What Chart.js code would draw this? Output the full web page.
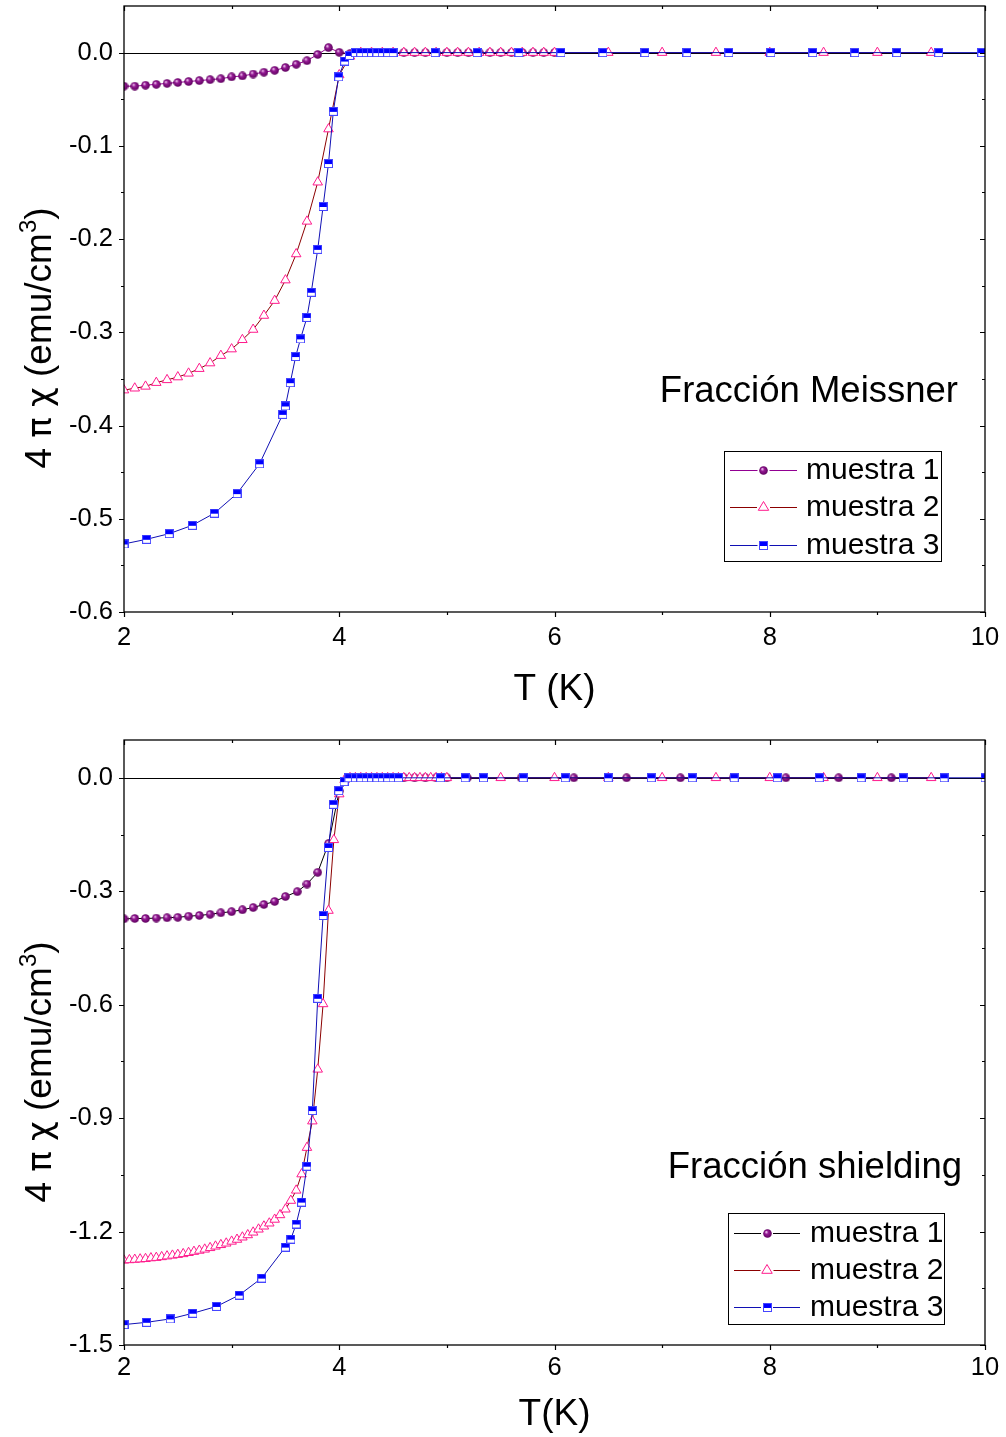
<!DOCTYPE html>
<html>
<head>
<meta charset="utf-8">
<script src="https://cdn.jsdelivr.net/npm/chart.js@4/dist/chart.umd.min.js"></script>
<style>
html, body { margin: 0; padding: 0; background: #fff; }
#wrap { position: relative; width: 1006px; height: 1437px; }
canvas { position: absolute; left: 0; }
</style>
</head>
<body>
<div id="wrap">
  <canvas id="meissner" width="1006" height="720" style="top:0"></canvas>
  <canvas id="shielding" width="1006" height="717" style="top:720px"></canvas>
</div>
<script>
// --- DONNÉES : Fracción Meissner ---
const meissT1 = [2.0, 2.1, 2.2, 2.3, 2.4, 2.5, 2.6, 2.7, 2.8, 2.9, 3.0, 3.1, 3.2, 3.3, 3.4, 3.5, 3.6, 3.7, 3.8, 3.9, 4.0, 4.1,
  4.2, 4.3, 4.4, 4.5, 4.6, 4.7, 4.8, 4.9, 5.0, 5.1, 5.2, 5.3, 5.4, 5.5, 5.6, 5.7, 5.8, 5.9, 6.0];
const meissV1 = [-0.036, -0.036, -0.035, -0.034, -0.033, -0.032, -0.031, -0.030, -0.029, -0.028, -0.026, -0.025, -0.023, -0.021, -0.019, -0.016, -0.0125, -0.0086, -0.002, 0.0054, 0.0003, -0.001,
  0, 0, 0, 0, 0, 0, 0, 0, 0, 0, 0, 0, 0, 0, 0, 0, 0, 0, 0];

const meissT2 = [2.0, 2.1, 2.2, 2.3, 2.4, 2.5, 2.6, 2.7, 2.8, 2.9, 3.0, 3.1, 3.2, 3.3, 3.4, 3.5, 3.6, 3.7, 3.8, 3.9, 4.0, 4.1,
  4.2, 4.3, 4.4, 4.5, 4.6, 4.7, 4.8, 4.9, 5.0, 5.1, 5.2, 5.3, 5.4, 5.5, 5.6, 5.7, 5.8, 5.9, 6.0,
  6.5, 7.0, 7.5, 8.0, 8.5, 9.0, 9.5];
const meissV2 = [-0.362, -0.360, -0.358, -0.354, -0.351, -0.348, -0.344, -0.339, -0.333, -0.325, -0.318, -0.308, -0.297, -0.282, -0.266, -0.244, -0.216, -0.181, -0.139, -0.082, -0.024, -0.004,
  0, 0, 0, 0, 0, 0, 0, 0, 0, 0, 0, 0, 0, 0, 0, 0, 0, 0, 0,
  0, 0, 0, 0, 0, 0, 0];

const meissT3 = [2.0, 2.21, 2.42, 2.635, 2.84, 3.05, 3.26, 3.475, 3.50, 3.545, 3.595, 3.64, 3.70, 3.74, 3.80, 3.85, 3.90, 3.945, 3.995, 4.05, 4.095,
  4.15, 4.2, 4.25, 4.3, 4.35, 4.4, 4.45, 4.5,
  4.89, 5.28, 5.67, 6.06, 6.45, 6.84, 7.23, 7.62, 8.01, 8.40, 8.79, 9.18, 9.57, 9.97];
const meissV3 = [-0.527, -0.522, -0.516, -0.507, -0.494, -0.473, -0.441, -0.388, -0.379, -0.354, -0.326, -0.307, -0.284, -0.257, -0.211, -0.165, -0.119, -0.063, -0.026, -0.009, -0.003,
  0, 0, 0, 0, 0, 0, 0, 0,
  0, 0, 0, 0, 0, 0, 0, 0, 0, 0, 0, 0, 0, 0];

// --- DONNÉES : Fracción shielding ---
const shieldT1 = [2.0, 2.1, 2.2, 2.3, 2.4, 2.5, 2.6, 2.7, 2.8, 2.9, 3.0, 3.1, 3.2, 3.3, 3.4, 3.5, 3.61, 3.7, 3.8, 3.9, 4.0,
  4.1, 4.2, 4.3, 4.4, 4.5, 4.6, 4.7, 4.8, 4.9, 5.0,
  5.19, 5.69, 6.18, 6.67, 7.17, 7.66, 8.15, 8.64, 9.13, 9.62];
const shieldV1 = [-0.373, -0.372, -0.372, -0.371, -0.370, -0.369, -0.366, -0.364, -0.361, -0.357, -0.354, -0.349, -0.343, -0.335, -0.327, -0.314, -0.301, -0.281, -0.250, -0.174, -0.035,
  0, 0, 0, 0, 0, 0, 0, 0, 0, 0,
  0, 0, 0, 0, 0, 0, 0, 0, 0, 0];

const shieldT2 = [2.00, 2.05, 2.10, 2.15, 2.20, 2.25, 2.30, 2.35, 2.40, 2.45, 2.50, 2.55, 2.60, 2.65, 2.70, 2.75, 2.80, 2.85, 2.90, 2.95,
  3.00, 3.05, 3.10, 3.15, 3.20, 3.25, 3.30, 3.35, 3.40, 3.45, 3.50, 3.55, 3.60, 3.65, 3.70, 3.75, 3.80, 3.85, 3.90, 3.95,
  4.00, 4.05, 4.10, 4.15, 4.20, 4.25, 4.30, 4.35, 4.40, 4.45, 4.50, 4.55, 4.60, 4.65, 4.70, 4.75, 4.80, 4.85, 4.90, 4.95, 5.00,
  5.5, 6.0, 6.5, 7.0, 7.5, 8.0, 8.5, 9.0, 9.5];
const shieldV2 = [-1.276, -1.275, -1.274, -1.273, -1.272, -1.270, -1.269, -1.267, -1.265, -1.263, -1.261, -1.259, -1.256, -1.253, -1.250, -1.247, -1.243, -1.239, -1.235, -1.231,
  -1.226, -1.221, -1.215, -1.209, -1.202, -1.194, -1.186, -1.178, -1.168, -1.156, -1.141, -1.118, -1.091, -1.048, -0.978, -0.908, -0.771, -0.598, -0.351, -0.164,
  -0.043, -0.005, 0, 0, 0, 0, 0, 0, 0, 0, 0, 0, 0, 0, 0, 0, 0, 0, 0, 0, 0,
  0, 0, 0, 0, 0, 0, 0, 0, 0];

const shieldT3 = [2.0, 2.21, 2.43, 2.64, 2.86, 3.07, 3.28, 3.50, 3.55, 3.60, 3.65, 3.70, 3.75, 3.80, 3.85, 3.90, 3.945, 3.995, 4.045, 4.09,
  4.15, 4.2, 4.25, 4.3, 4.35, 4.4, 4.45, 4.5, 4.55,
  4.94, 5.17, 5.34, 5.71, 6.10, 6.50, 6.90, 7.28, 7.67, 8.07, 8.46, 8.85, 9.24, 9.62, 10.0];
const shieldV3 = [-1.446, -1.440, -1.431, -1.416, -1.398, -1.368, -1.323, -1.241, -1.220, -1.180, -1.122, -1.027, -0.880, -0.583, -0.364, -0.184, -0.070, -0.034, -0.010, 0,
  0, 0, 0, 0, 0, 0, 0, 0, 0,
  0, 0, 0, 0, 0, 0, 0, 0, 0, 0, 0, 0, 0, 0, 0];

// --- AXES ---
const xTicks = [2, 4, 6, 8, 10];
const meissYTicks = [0, -0.1, -0.2, -0.3, -0.4, -0.5, -0.6];
const shieldYTicks = [0, -0.3, -0.6, -0.9, -1.2, -1.5];
const seriesNames = ['muestra 1', 'muestra 2', 'muestra 3'];

const FAMILY = "'Liberation Sans', Arial, sans-serif";
const GREEK = "'DejaVu Sans', sans-serif";

// --- MARQUEURS ---
function makeSphere(d) {
  const c = document.createElement('canvas');
  c.width = c.height = d;
  const g = c.getContext('2d');
  const r = d / 2;
  const grad = g.createRadialGradient(r * 0.7, r * 0.65, 0.3, r, r, r);
  grad.addColorStop(0, '#f0c8f0');
  grad.addColorStop(0.35, '#951a95');
  grad.addColorStop(1, '#5c005c');
  g.fillStyle = grad;
  g.beginPath();
  g.arc(r, r, r - 0.2, 0, Math.PI * 2);
  g.fill();
  return c;
}

function makeHalfSquare(s) {
  const c = document.createElement('canvas');
  c.width = c.height = s;
  const g = c.getContext('2d');
  g.fillStyle = '#fff';
  g.fillRect(0, 0, s, s);
  g.fillStyle = '#0000ff';
  g.fillRect(0, 0, s, Math.round(s * 0.55));
  g.strokeStyle = '#4646ff';
  g.lineWidth = 1;
  g.strokeRect(0.5, 0.5, s - 1, s - 1);
  return c;
}

const sphere = makeSphere(9);
const halfSquare = makeHalfSquare(9);

function pts(ts, vs) {
  return ts.map((t, i) => ({ x: t, y: vs[i] }));
}

// titre vertical avec lettres grecques et exposant
function drawYTitle(ctx, cx, cy) {
  const parts = [
    { t: '4 ', f: '37px ' + FAMILY, dy: 0 },
    { t: 'π', f: '34px ' + GREEK, dy: 0 },
    { t: ' ', f: '37px ' + FAMILY, dy: 0 },
    { t: 'χ', f: '34px ' + GREEK, dy: 0 },
    { t: ' (emu/cm', f: '37px ' + FAMILY, dy: 0 },
    { t: '3', f: '24px ' + FAMILY, dy: -15 },
    { t: ')', f: '37px ' + FAMILY, dy: 0 }
  ];
  ctx.save();
  ctx.translate(cx, cy);
  ctx.rotate(-Math.PI / 2);
  ctx.fillStyle = '#000';
  ctx.textAlign = 'left';
  ctx.textBaseline = 'alphabetic';
  let total = 0;
  parts.forEach(p => { ctx.font = p.f; p.w = ctx.measureText(p.t).width; total += p.w; });
  let xx = -total / 2;
  parts.forEach(p => {
    ctx.font = p.f;
    ctx.fillText(p.t, xx, 13 + p.dy);
    xx += p.w;
  });
  ctx.restore();
}

// --- PLUGIN : cadre, graduations, légende, annotation ---
function makeFramePlugin(cfg) {
  return {
    id: 'frame',
    beforeDatasetsDraw(chart) {
      const { ctx, chartArea: a, scales: { y } } = chart;
      const y0 = Math.round(y.getPixelForValue(0)) + 0.5;
      ctx.save();
      ctx.strokeStyle = '#000';
      ctx.lineWidth = 1;
      ctx.beginPath();
      ctx.moveTo(a.left, y0);
      ctx.lineTo(a.right, y0);
      ctx.stroke();
      ctx.restore();
    },
    afterDatasetsDraw(chart) {
      const { ctx, chartArea: a, scales: { x, y } } = chart;
      ctx.save();
      ctx.strokeStyle = '#000';
      ctx.lineWidth = 1.3;
      ctx.strokeRect(a.left, a.top, a.right - a.left, a.bottom - a.top);
      ctx.lineWidth = 1.2;
      ctx.beginPath();
      const xMinor = [];
      for (let i = 0; i < xTicks.length - 1; i++) xMinor.push((xTicks[i] + xTicks[i + 1]) / 2);
      const yMinor = [];
      for (let i = 0; i < cfg.yTicks.length - 1; i++) yMinor.push((cfg.yTicks[i] + cfg.yTicks[i + 1]) / 2);
      xTicks.forEach(v => {
        const px = Math.round(x.getPixelForValue(v)) + 0.5;
        ctx.moveTo(px, a.bottom); ctx.lineTo(px, a.bottom + 5);
        ctx.moveTo(px, a.top); ctx.lineTo(px, a.top + 5);
      });
      xMinor.forEach(v => {
        const px = Math.round(x.getPixelForValue(v)) + 0.5;
        ctx.moveTo(px, a.bottom); ctx.lineTo(px, a.bottom + 3);
        ctx.moveTo(px, a.top); ctx.lineTo(px, a.top + 3);
      });
      cfg.yTicks.forEach(v => {
        const py = Math.round(y.getPixelForValue(v)) + 0.5;
        ctx.moveTo(a.left, py); ctx.lineTo(a.left - 5, py);
        ctx.moveTo(a.right, py); ctx.lineTo(a.right - 5, py);
      });
      yMinor.forEach(v => {
        const py = Math.round(y.getPixelForValue(v)) + 0.5;
        ctx.moveTo(a.left, py); ctx.lineTo(a.left - 3, py);
        ctx.moveTo(a.right, py); ctx.lineTo(a.right - 3, py);
      });
      ctx.stroke();

      // légende
      const L = cfg.legend;
      ctx.fillStyle = '#fff';
      ctx.fillRect(L.x, L.y, L.w, L.h);
      ctx.lineWidth = 1;
      ctx.strokeStyle = '#000';
      ctx.strokeRect(L.x + 0.5, L.y + 0.5, L.w, L.h);
      const ds = chart.data.datasets;
      [0, 1, 2].forEach((k, i) => {
        const d = ds[k];
        const ry = L.rows[i];
        ctx.strokeStyle = d.borderColor;
        ctx.lineWidth = 1;
        ctx.beginPath();
        ctx.moveTo(L.x1, ry + 0.5); ctx.lineTo(L.x2, ry + 0.5);
        ctx.stroke();
        const cx = (L.x1 + L.x2) / 2;
        if (d.pointStyle === 'triangle') {
          const r = d.pointRadius;
          ctx.fillStyle = '#fff';
          ctx.fillRect(cx - r - 1, ry - r - 1, 2 * r + 2, 2 * r + 2);
          ctx.strokeStyle = d.pointBorderColor;
          ctx.beginPath();
          ctx.moveTo(cx, ry - r);
          ctx.lineTo(cx + r * 0.95, ry + r * 0.6);
          ctx.lineTo(cx - r * 0.95, ry + r * 0.6);
          ctx.closePath();
          ctx.stroke();
        } else {
          ctx.fillStyle = '#fff';
          ctx.fillRect(cx - 6, ry - 6, 12, 12);
          const im = d.pointStyle;
          ctx.drawImage(im, Math.round(cx - im.width / 2), Math.round(ry - im.height / 2));
        }
        ctx.fillStyle = '#000';
        ctx.font = '30px ' + FAMILY;
        ctx.textBaseline = 'middle';
        ctx.textAlign = 'left';
        ctx.fillText(seriesNames[i], L.textX, ry + 1);
      });

      // annotation
      ctx.fillStyle = '#000';
      ctx.font = '36.5px ' + FAMILY;
      ctx.textAlign = 'right';
      ctx.textBaseline = 'middle';
      ctx.fillText(cfg.note.text, cfg.note.x, cfg.note.y);
      ctx.restore();

      drawYTitle(ctx, 38, cfg.yTitleY);
    }
  };
}

function noPad(s) {
  s.paddingTop = 0; s.paddingBottom = 0; s.paddingLeft = 0; s.paddingRight = 0;
}

function buildChart(id, cfg) {
  const datasets = [
    {
      label: seriesNames[0], data: pts(cfg.t1, cfg.v1), order: 3,
      borderColor: cfg.line1, borderWidth: 1, pointStyle: sphere, pointRadius: 4.5
    },
    {
      label: seriesNames[1], data: pts(cfg.t2, cfg.v2), order: 2,
      borderColor: '#8b0000', borderWidth: 1, pointStyle: 'triangle', pointRadius: 5.5,
      pointBorderColor: '#ff1a8c', pointBackgroundColor: '#fff', pointBorderWidth: 1
    },
    {
      label: seriesNames[2], data: pts(cfg.t3, cfg.v3), order: 1,
      borderColor: '#1010b4', borderWidth: 1, pointStyle: halfSquare, pointRadius: 4.5
    }
  ];
  return new Chart(document.getElementById(id), {
    type: 'line',
    data: { datasets },
    options: {
      responsive: false,
      animation: false,
      events: [],
      layout: { autoPadding: false, padding: { top: cfg.padTop, right: 21, left: 0, bottom: 0 } },
      plugins: { legend: { display: false }, tooltip: { enabled: false } },
      elements: { line: { tension: 0 } },
      scales: {
        x: {
          type: 'linear', min: 2, max: 10,
          afterBuildTicks: s => { s.ticks = xTicks.map(v => ({ value: v })); },
          afterFit: s => { s.height = cfg.xAxisH; noPad(s); },
          grid: { display: false, drawTicks: false },
          border: { display: false },
          ticks: { color: '#000', font: { size: 25.5, family: FAMILY }, padding: cfg.xTickPad, maxRotation: 0, autoSkip: false, callback: v => String(v) },
          title: { display: true, text: cfg.xTitle, color: '#000', font: { size: 37, family: FAMILY }, padding: { top: 0, bottom: cfg.xTitlePad } }
        },
        y: {
          type: 'linear', min: cfg.yMin, max: cfg.yMax,
          afterBuildTicks: s => { s.ticks = cfg.yTicks.map(v => ({ value: v })); },
          afterFit: s => { s.width = 124; noPad(s); },
          grid: { display: false, drawTicks: false },
          border: { display: false },
          ticks: { color: '#000', font: { size: 25.5, family: FAMILY }, padding: 11, autoSkip: false, callback: v => v.toFixed(1) },
          title: { display: false }
        }
      }
    },
    plugins: [makeFramePlugin(cfg)]
  });
}

document.addEventListener('DOMContentLoaded', () => {
  buildChart('meissner', {
    t1: meissT1, v1: meissV1, t2: meissT2, v2: meissV2, t3: meissT3, v3: meissV3,
    line1: '#920092', yMin: -0.6, yMax: 0.05, yTicks: meissYTicks,
    padTop: 6, xAxisH: 108, xTitle: 'T (K)', xTitlePad: 8, xTickPad: 11, yTitleY: 338,
    legend: { x: 724, y: 451, w: 217, h: 110, rows: [470, 507, 545], x1: 730, x2: 797, textX: 806 },
    note: { text: 'Fracción Meissner', x: 958, y: 392 }
  });
  buildChart('shielding', {
    t1: shieldT1, v1: shieldV1, t2: shieldT2, v2: shieldV2, t3: shieldT3, v3: shieldV3,
    line1: '#000000', yMin: -1.5, yMax: 0.1, yTicks: shieldYTicks,
    padTop: 20, xAxisH: 92, xTitle: 'T(K)', xTitlePad: 0, xTickPad: 8, yTitleY: 352,
    legend: { x: 728, y: 493, w: 216, h: 111, rows: [513, 550, 587], x1: 734, x2: 800, textX: 810 },
    note: { text: 'Fracción shielding', x: 962, y: 448 }
  });
});
</script>
</body>
</html>
